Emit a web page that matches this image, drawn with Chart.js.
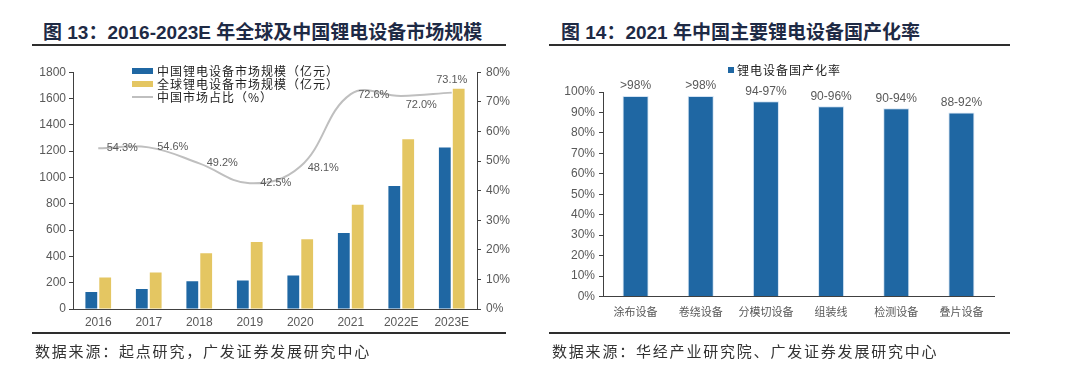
<!DOCTYPE html>
<html lang="zh-CN">
<head>
<meta charset="utf-8">
<script src="https://cdn.jsdelivr.net/npm/chart.js@4.4.1/dist/chart.umd.min.js"></script>
<style>
  body { margin: 0; background: #fff; }
  #page { position: relative; width: 1080px; height: 377px; overflow: hidden;
          font-family: "Liberation Sans", Arial, "Noto Sans CJK SC", sans-serif; }
  .title { position: absolute; top: 21px; font-size: 19px; font-weight: bold; color: #1e2a45;
           line-height: 24px; white-space: nowrap; }
  .rule { position: absolute; height: 2px; background: #2e2e2e; }
  .note { position: absolute; top: 341px; font-family: "Noto Sans CJK SC", sans-serif; font-size: 15px;
          letter-spacing: 1.8px; color: #333; white-space: nowrap; line-height: 20px; }
  .legend { position: absolute; font-family: "Noto Sans CJK SC", sans-serif; font-size: 12px;
            color: #222; white-space: nowrap; line-height: 13px; }
  .legend .row { height: 13px; display: flex; align-items: center; }
  .legend .sw { display: inline-block; width: 21px; height: 6px; margin-right: 4px; }
  .legend .ln { display: inline-block; width: 21px; height: 2px; margin-right: 4px; background: #bfbfbf; }
  canvas { position: absolute; }
</style>
</head>
<body>
<div id="page">
  <div class="title" style="left:43px">图 13：2016-2023E 年全球及中国锂电设备市场规模</div>
  <div class="rule" style="left:32px; top:44px; width:474px"></div>
  <canvas id="leftChart" width="540" height="275" style="left:0; top:60px"></canvas>
  <div class="legend" id="leftLegend" style="left:132px; top:64px; letter-spacing:1px"></div>
  <div class="rule" style="left:32px; top:332px; width:474px"></div>
  <div class="note" style="left:35px">数据来源：起点研究，广发证券发展研究中心</div>

  <div class="title" style="left:561px">图 14：2021 年中国主要锂电设备国产化率</div>
  <div class="rule" style="left:549px; top:44px; width:461px"></div>
  <canvas id="rightChart" width="540" height="275" style="left:540px; top:60px"></canvas>
  <div class="legend" id="rightLegend" style="left:728px; top:63px; letter-spacing:1px"></div>
  <div class="rule" style="left:549px; top:332px; width:461px"></div>
  <div class="note" style="left:552px">数据来源：华经产业研究院、广发证券发展研究中心</div>
</div>

<script>
// ---- 1. DATA ----
const years = ['2016', '2017', '2018', '2019', '2020', '2021', '2022E', '2023E'];
const chinaSize = [129, 152, 210, 217, 255, 578, 935, 1228];      // 亿元
const globalSize = [240, 278, 423, 510, 531, 793, 1290, 1674];    // 亿元
const chinaShare = [54.3, 54.6, 49.2, 42.5, 48.1, 72.6, 72.0, 73.1]; // %
const seriesNames = ['中国锂电设备市场规模（亿元）', '全球锂电设备市场规模（亿元）', '中国市场占比（%）'];

const equipTypes = ['涂布设备', '卷绕设备', '分模切设备', '组装线', '检测设备', '叠片设备'];
const localRate = [98, 98, 95.5, 93, 92, 90];
const localRateText = ['>98%', '>98%', '94-97%', '90-96%', '90-94%', '88-92%'];
const rateName = '锂电设备国产化率';

// ---- 2. STYLE ----
const BLUE = '#1f67a3';
const GOLD = '#e4c662';
const GREY_LINE = '#bfbfbf';
const AXIS = '#404040';
const TXT = '#595959';
const numFont = { family: '"Liberation Sans", Arial, sans-serif', size: 12 };
const cjkFont = { family: '"Noto Sans CJK SC", sans-serif', size: 11 };
// where each share label sits relative to its point (dx, dy)
const shareLabelShift = [[24, 0], [24, 0], [23, 0], [26, 0], [23, 1], [23, 1], [20, 9], [0, -13]];

// html legends
const leftLegend = document.getElementById('leftLegend');
[BLUE, GOLD, null].forEach((c, i) => {
    const row = document.createElement('div');
    row.className = 'row';
    row.innerHTML = (c ? `<span class="sw" style="background:${c}"></span>` : '<span class="ln"></span>') + seriesNames[i];
    leftLegend.appendChild(row);
});
document.getElementById('rightLegend').innerHTML =
    `<div class="row"><span style="display:inline-block;width:6px;height:6px;background:${BLUE};margin-right:3px"></span>${rateName}</div>`;

// ---- 3. LEFT CHART: market size + China share ----
const shareLabels = {
    id: 'shareLabels',
    afterDatasetsDraw(chart) {
        const ctx = chart.ctx;
        const meta = chart.getDatasetMeta(2);
        ctx.save();
        ctx.font = '11px "Liberation Sans", Arial, sans-serif';
        ctx.fillStyle = TXT;
        ctx.textAlign = 'center';
        ctx.textBaseline = 'middle';
        meta.data.forEach((pt, i) => {
            const [dx, dy] = shareLabelShift[i];
            ctx.fillText(chinaShare[i].toFixed(1) + '%', pt.x + dx, pt.y + dy);
        });
        ctx.restore();
    }
};

new Chart(document.getElementById('leftChart'), {
    type: 'bar',
    data: {
        labels: years,
        datasets: [
            { label: seriesNames[0], data: chinaSize, backgroundColor: BLUE, yAxisID: 'y',
              barPercentage: 0.85, categoryPercentage: 0.55, order: 2 },
            { label: seriesNames[1], data: globalSize, backgroundColor: GOLD, yAxisID: 'y',
              barPercentage: 0.85, categoryPercentage: 0.55, order: 2 },
            { type: 'line', label: seriesNames[2], data: chinaShare, yAxisID: 'y1',
              borderColor: GREY_LINE, borderWidth: 2, pointRadius: 0, tension: 0.4, fill: false, order: 1 }
        ]
    },
    options: {
        responsive: false,
        animation: false,
        devicePixelRatio: 1,
        layout: { padding: { top: 11, left: 0, right: 0, bottom: 0 } },
        plugins: { legend: { display: false }, tooltip: { enabled: false } },
        scales: {
            x: {
                grid: { display: false, drawTicks: false },
                border: { color: AXIS, width: 1 },
                ticks: { font: numFont, color: TXT, padding: 6, maxRotation: 0 },
                afterFit(s) { s.height = 26; }
            },
            y: {
                position: 'left', min: 0, max: 1800,
                ticks: { stepSize: 200, font: numFont, color: TXT, padding: 3, callback: v => String(v) },
                grid: { drawOnChartArea: false, tickLength: 4, color: AXIS },
                border: { color: AXIS, width: 1 },
                afterFit(s) { s.width = 73; }
            },
            y1: {
                position: 'right', min: 0, max: 80,
                ticks: { stepSize: 10, font: numFont, color: TXT, padding: 5, callback: v => v + '%' },
                grid: { drawOnChartArea: false, tickLength: 4, color: AXIS },
                border: { color: AXIS, width: 1 },
                afterFit(s) { s.width = 63; }
            }
        }
    },
    plugins: [shareLabels]
});

// ---- 4. RIGHT CHART: localisation rate ----
const rateLabels = {
    id: 'rateLabels',
    afterDatasetsDraw(chart) {
        const ctx = chart.ctx;
        const meta = chart.getDatasetMeta(0);
        ctx.save();
        ctx.font = '12px "Liberation Sans", Arial, sans-serif';
        ctx.fillStyle = TXT;
        ctx.textAlign = 'center';
        ctx.textBaseline = 'bottom';
        meta.data.forEach((bar, i) => ctx.fillText(localRateText[i], bar.x, bar.y - 4));
        ctx.restore();
    }
};

new Chart(document.getElementById('rightChart'), {
    type: 'bar',
    data: {
        labels: equipTypes,
        datasets: [{
            label: rateName, data: localRate, backgroundColor: BLUE,
            borderColor: 'rgba(200,220,240,0.8)', borderWidth: 1,
            barPercentage: 0.8, categoryPercentage: 0.5
        }]
    },
    options: {
        responsive: false,
        animation: false,
        devicePixelRatio: 1,
        layout: { padding: { top: 32, left: 0, right: 86, bottom: 0 } },
        plugins: { legend: { display: false }, tooltip: { enabled: false } },
        scales: {
            x: {
                grid: { display: false, drawTicks: false },
                border: { color: AXIS, width: 1 },
                ticks: { font: cjkFont, color: TXT, padding: 9, maxRotation: 0 },
                afterFit(s) { s.height = 38.5; }
            },
            y: {
                min: 0, max: 100,
                ticks: { stepSize: 10, font: numFont, color: TXT, padding: 4, callback: v => v + '%' },
                grid: { drawOnChartArea: false, tickLength: 4, color: AXIS },
                border: { color: AXIS, width: 1 },
                afterFit(s) { s.width = 63; }
            }
        }
    },
    plugins: [rateLabels]
});
</script>
</body>
</html>
